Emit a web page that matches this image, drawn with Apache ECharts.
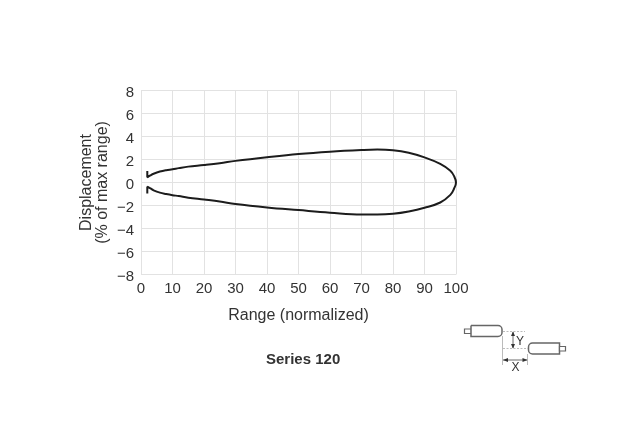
<!DOCTYPE html>
<html><head><meta charset="utf-8">
<style>html,body{margin:0;padding:0;background:#fff}#c{width:636px;height:440px}</style>
<script src="https://cdn.jsdelivr.net/npm/echarts@6/dist/echarts.min.js"></script>
</head><body><div id="c"></div>
<script>
const xTicks = [0,10,20,30,40,50,60,70,80,90,100];
const yTicks = [-8,-6,-4,-2,0,2,4,6,8];
const upperX = [2,2,3,4,6,8,10,12,15,20,25,30,40,50,60,70,75,80,85,90,95,98.2,99.4];
const upperY = [1.0,0.45,0.62,0.76,0.95,1.07,1.15,1.25,1.38,1.52,1.68,1.88,2.2,2.48,2.68,2.82,2.86,2.8,2.58,2.18,1.62,1.02,0.55];
const noseX = [100];
const noseY = [0];
const lowerX = [99.4,98.2,95,90,85,80,75,70,60,50,40,30,25,20,15,12,10,8,6,4,3,2,2];
const lowerY = [-0.52,-1.08,-1.74,-2.2,-2.52,-2.72,-2.78,-2.78,-2.62,-2.4,-2.17,-1.87,-1.65,-1.48,-1.32,-1.18,-1.1,-1.0,-0.88,-0.68,-0.52,-0.36,-0.95];
const xName = 'Range (normalized)';
const yName = 'Displacement\n(% of max range)';
const title = 'Series 120';
const font = 'Liberation Sans';
const pairs = (a,b)=>a.map((v,i)=>[v,b[i]]);
const dark = '#1c1c1c';
const grey = '#666';
const seg=(x1,y1,x2,y2,c,d)=>({type:'line',shape:{x1,y1,x2,y2},style:{stroke:c||'#999',lineWidth:0.8,lineDash:d?[2,1.5]:null}});
const tri=(pts)=>({type:'polygon',shape:{points:pts},style:{fill:'#333'}});
const chart = echarts.init(document.getElementById('c'),null,{renderer:'canvas'});
chart.setOption({
  animation:false,
  backgroundColor:'#fff',
  title:{text:title,left:261,top:347,textStyle:{fontFamily:font,fontSize:15,fontWeight:'bold',color:'#333'}},
  grid:{left:141,right:180,top:90.5,bottom:165.5,containLabel:false},
  xAxis:{type:'value',min:0,max:100,interval:10,name:xName,nameLocation:'middle',nameGap:33,
    nameTextStyle:{fontFamily:font,fontSize:16,color:'#333'},
    axisLine:{show:false},axisTick:{show:false},
    axisLabel:{fontFamily:font,fontSize:15,color:'#333',margin:7,showMinLabel:true,showMaxLabel:true},
    splitLine:{show:true,lineStyle:{color:'#e2e2e2',width:1}}},
  yAxis:{type:'value',min:-8,max:8,interval:2,name:yName,nameLocation:'middle',nameGap:30.5,nameRotate:90,
    nameTextStyle:{fontFamily:font,fontSize:16,color:'#333',lineHeight:16},
    axisLine:{show:false},axisTick:{show:false},
    axisLabel:{fontFamily:font,fontSize:15,color:'#333',margin:7,verticalAlign:'top',lineHeight:5,formatter:v=>String(v).replace('-','\u2212')},
    splitLine:{show:true,lineStyle:{color:'#e2e2e2',width:1}}},
  series:[
    {type:'line',data:pairs(upperX.concat(noseX,lowerX),upperY.concat(noseY,lowerY)),showSymbol:false,smooth:0.4,lineStyle:{color:dark,width:2},clip:false,silent:true}
  ],
  graphic:[{type:'group',silent:true,children:[
    {type:'rect',shape:{x:464.5,y:329,width:7,height:4.5},style:{fill:'#fff',stroke:grey,lineWidth:1.2}},
    {type:'rect',shape:{x:471,y:325.5,width:31,height:11,r:[0,4,4,0]},style:{fill:'#fff',stroke:grey,lineWidth:1.5}},
    {type:'rect',shape:{x:528.5,y:343,width:31,height:11,r:[4,0,0,4]},style:{fill:'#fff',stroke:grey,lineWidth:1.5}},
    {type:'rect',shape:{x:559.5,y:346.5,width:6,height:4.5},style:{fill:'#fff',stroke:grey,lineWidth:1.2}},
    seg(503,331.5,525,331.5,'#aaa',true),
    seg(503,348.5,528,348.5,'#aaa',true),
    seg(502.5,336,502.5,365,'#aaa'),
    seg(527.5,354,527.5,365,'#aaa'),
    seg(513,332,513,348,'#444'),
    tri([[513,331.5],[511,336],[515,336]]),
    tri([[513,348.5],[511,344],[515,344]]),
    seg(503,360,527,360,'#444'),
    tri([[503,360],[508,358],[508,362]]),
    tri([[527.5,360],[522.5,358],[522.5,362]]),
    {type:'text',style:{text:'Y',x:516,y:335.5,font:'12px '+font,fill:'#333'}},
    {type:'text',style:{text:'X',x:511.5,y:362,font:'12px '+font,fill:'#333'}}
  ]}]
});
</script></body></html>
